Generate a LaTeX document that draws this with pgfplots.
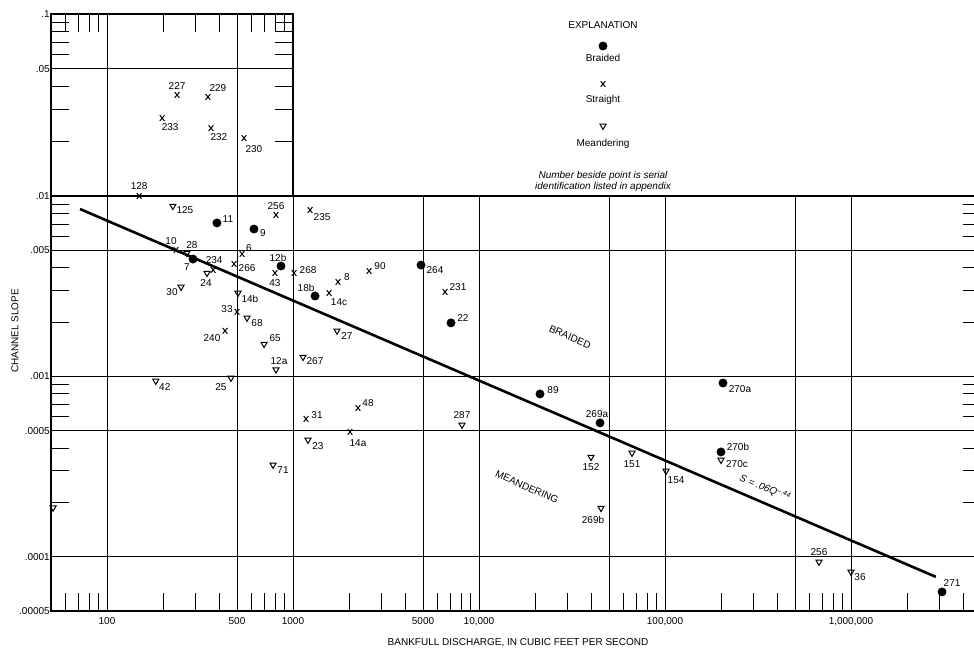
\documentclass[border=0pt]{standalone}
\usepackage{pgfplots}
\usepackage{pgfplotstable}
\pgfplotsset{compat=1.18}
\usepackage{fontspec}
\setmainfont{Liberation Sans}
\newcommand\lf{\fontsize{10}{12}\selectfont}

\pgfplotstableread{
x y dx dy lab
390 0.00709 11 4 11
617 0.00656 9 -4 9
290 0.00447 -6 -8 7
862 0.00409 -3 8 12b
1314 0.00279 -9 8 18b
4878 0.00414 14 -5 264
7071 0.00198 12 5 22
21280 0.000799 13 4 89
44740 0.000552 -3 9 269a
205000 0.000919 17 -6 270a
200000 0.000381 17 5 270b
3086000 0.0000638 10 9 271
}\braided

\pgfplotstableread{
x y dx dy lab
238 0.0359 0 9 227
349 0.0350 10 9 229
198 0.0268 8 -9 233
362 0.0236 8 -9 232
545 0.0208 10 -11 230
}\straightTop

\pgfplotstableread{
x y dx dy lab
149 0.0100 0 10 128
810 0.00785 0 9 256
1235 0.00836 12 -7 235
235 0.00502 -5 9 10
372 0.00389 1 10 234
532 0.00477 7 6 6
482 0.00420 13 -4 266
800 0.00374 0 -10 43
1013 0.00374 14 3 268
2563 0.00384 11 5 90
1746 0.00334 9 5 8
1562 0.00290 10 -9 14c
6566 0.00294 13 5 231
500 0.00228 -10 3 33
431 0.00179 -13 -7 240
1175 0.000581 11 4 31
2236 0.000668 10 5 48
2025 0.000492 8 -11 14a
}\straight

\pgfplotstableread{
x y dx dy lab
226 0.0088 12 -4 125
269 0.00483 5 8 28
345 0.00374 -1 -10 24
250 0.00313 -9 -5 30
506 0.00290 12 -6 14b
566 0.00211 10 -5 68
699 0.00151 11 6 65
810 0.00109 3 9 12a
1132 0.00128 12 -4 267
1724 0.00179 10 -5 27
183 0.000943 9 -6 42
464 0.000980 -10 -9 25
1204 0.000444 10 -6 23
781 0.000323 10 -5 71
8105 0.000538 0 10 287
40010 0.000357 0 -10 152
66470 0.000376 0 -11 151
101300 0.000299 10 -9 154
45290 0.000186 -8 -12 269b
200000 0.000344 16 -4 270c
673000 0.0000936 0 10 256
1000000 0.0000823 9 -5 36
}\meander

\pgfplotsset{
  ptlabels/.style={nodes near coords, point meta=explicit symbolic,
     visualization depends on={\thisrow{dx}\as\mydx},
     visualization depends on={\thisrow{dy}\as\mydy},
     every node near coord/.append style={anchor=center, xshift=\mydx, yshift=\mydy, font=\lf, black, inner sep=0pt}},
}

\begin{document}
\begin{tikzpicture}
\path[use as bounding box] (-51pt,-42pt) rectangle (923pt,611pt);

% main panel
\begin{axis}[xmode=log, ymode=log, scale only axis, clip=false,
  axis line style={line width=1.2pt, black},
  tick align=inside, major tick length=0pt, minor tick length=18pt,
  minor tick style={line width=0.8pt, black},
  grid=major, major grid style={line width=0.7pt, black},
  tick label style={font=\lf},
  at={(0pt,0pt)}, anchor=south west, width=930pt, height=415pt,
  xmin=50, xmax=5e6, ymin=5e-5, ymax=0.01,
  xtick={100,500,1000,5000,10000,50000,100000,500000,1000000},
  xticklabels={100,500,1000,5000,{10,000},,{100,000},,{1,000,000}},
  ytick={5e-5,1e-4,5e-4,1e-3,5e-3},
  yticklabels={.00005,.0001,.0005,.001,.005},
  minor xtick={60,70,80,90,200,300,400,600,700,800,900,2000,3000,4000,6000,7000,8000,9000,20000,30000,40000,60000,70000,80000,90000,200000,300000,400000,600000,700000,800000,900000,2000000,3000000,4000000},
  minor ytick={2e-4,3e-4,4e-4,6e-4,7e-4,8e-4,9e-4,2e-3,3e-3,4e-3,6e-3,7e-3,8e-3,9e-3},
  xtick pos=left, ytick pos=both, yticklabel pos=left,
  xticklabel style={yshift=-3pt}, yticklabel style={inner sep=1pt},
]
\addplot[black, line width=2.6pt] coordinates {(71.6,0.00847) (2860000,0.0000773)};
\addplot[only marks, mark=*, mark size=4.2pt, black, ptlabels] table[x=x, y=y, meta=lab] {\braided};
\addplot[only marks, mark=x, mark size=3.7pt, black, mark options={line width=1pt, xscale=0.9, yscale=1.1}, ptlabels] table[x=x, y=y, meta=lab] {\straight};
\addplot[only marks, mark=triangle, mark size=3.5pt, black, mark options={rotate=180, line width=1pt, fill=white}, ptlabels] table[x=x, y=y, meta=lab] {\meander};
\addplot[only marks, mark=triangle, mark size=3.5pt, black, mark options={rotate=180, line width=1pt, fill=white}] coordinates {(51.3,0.000187)};
\end{axis}

% top ticks of main panel right of 1000
\begin{axis}[xmode=log, ymode=log, scale only axis, at={(242pt,0pt)}, anchor=south west,
  width=688pt, height=415pt, xmin=1000, xmax=5e6, ymin=5e-5, ymax=0.01,
  axis line style={draw=none}, xtick=\empty, ytick=\empty,
  minor xtick={2000,3000,4000,6000,7000,8000,9000,20000,30000,40000,60000,70000,80000,90000,200000,300000,400000,600000,700000,800000,900000,2000000,3000000,4000000},
  xtick pos=right, tick align=inside, minor tick length=18pt,
  minor tick style={line width=0.8pt, black}]
\end{axis}

% upper-left panel
\begin{axis}[xmode=log, ymode=log, scale only axis, clip=false,
  axis line style={line width=1.2pt, black},
  tick align=inside, major tick length=0pt, minor tick length=18pt,
  minor tick style={line width=0.8pt, black},
  grid=major, major grid style={line width=0.7pt, black},
  tick label style={font=\lf},
  at={(0pt,415pt)}, anchor=south west, width=242pt, height=182pt,
  xmin=50, xmax=1000, ymin=0.01, ymax=0.1,
  xtick={100,500}, xticklabels={},
  ytick={0.01,0.05,0.1}, yticklabels={.01,.05,.1},
  minor xtick={60,70,80,90,200,300,400,600,700,800,900},
  minor ytick={0.02,0.03,0.04,0.06,0.07,0.08,0.09},
  xtick pos=right, ytick pos=both, yticklabel pos=left,
  yticklabel style={inner sep=1pt},
]
\addplot[only marks, mark=x, mark size=3.7pt, black, mark options={line width=1pt, xscale=0.9, yscale=1.1}, ptlabels] table[x=x, y=y, meta=lab] {\straightTop};
\end{axis}

% explanation
\begin{axis}[hide axis, scale only axis, clip=false, at={(452pt,411pt)}, anchor=south west,
  width=200pt, height=200pt, xmin=0, xmax=200, ymin=0, ymax=200]
\addplot[only marks, mark=*, mark size=4.2pt, black] coordinates {(100,154)};
\addplot[only marks, mark=x, mark size=3.7pt, black, mark options={line width=1pt, xscale=0.9, yscale=1.1}] coordinates {(100,116)};
\addplot[only marks, mark=triangle, mark size=3.5pt, black, mark options={rotate=180, line width=1pt, fill=white}] coordinates {(100,74)};
\end{axis}

\node[font=\lf] at (552pt,586pt) {EXPLANATION};
\node[font=\lf] at (552pt,553pt) {Braided};
\node[font=\lf] at (552pt,511pt) {Straight};
\node[font=\lf] at (552pt,467pt) {Meandering};
\node[font=\lf\itshape, inner sep=0pt] at (552pt,435pt) {Number beside point is serial};
\node[font=\lf\itshape, inner sep=0pt] at (552pt,424pt) {identification listed in appendix};

\node[rotate=90, font=\lf] at (-36pt,280pt) {CHANNEL SLOPE};
\node[font=\lf] at (467pt,-32pt) {BANKFULL DISCHARGE, IN CUBIC FEET PER SECOND};
\node[rotate=-24, font=\lf] at (519pt,274pt) {BRAIDED};
\node[rotate=-24, font=\lf] at (476pt,124pt) {MEANDERING};
\node[rotate=-23, font=\lf\itshape] at (714pt,123pt) {S = .06Q\textsuperscript{--.44}};
\end{tikzpicture}
\end{document}
